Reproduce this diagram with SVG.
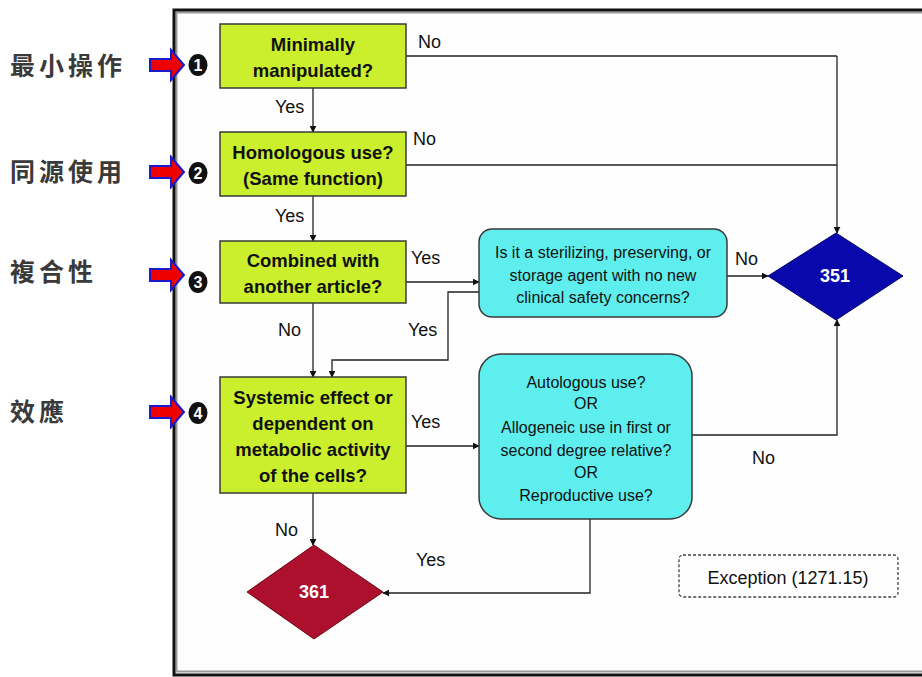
<svg xmlns="http://www.w3.org/2000/svg" width="922" height="677" viewBox="0 0 922 677">
<defs>
<marker id="ah" viewBox="0 0 10 10" refX="9" refY="5" markerWidth="7" markerHeight="7" orient="auto" markerUnits="userSpaceOnUse">
<path d="M0,0 L10,5 L0,10 z" fill="#111"/>
</marker>
<style>
.q{fill:#cbef2c;stroke:#3a3a3a;stroke-width:1.5}
.qt{font-family:"Liberation Sans",Arial,sans-serif;font-weight:bold;font-size:18.5px;fill:#111;text-anchor:middle}
.c{fill:#5eeeee;stroke:#3a3a3a;stroke-width:1.5}
.ct{font-family:"Liberation Sans",Arial,sans-serif;font-size:16px;fill:#111;text-anchor:middle}
.lb{font-family:"Liberation Sans",Arial,sans-serif;font-size:18px;fill:#111}
.ln{fill:none;stroke:#222;stroke-width:1.3}
.ar{fill:none;stroke:#222;stroke-width:1.3;marker-end:url(#ah)}
.dt{font-family:"Liberation Sans",Arial,sans-serif;font-weight:bold;font-size:18px;fill:#fff;text-anchor:middle}
.zh{font-family:"Noto Sans CJK TC","Noto Sans CJK SC",sans-serif;font-weight:bold;font-size:25px;fill:#3a3a3a;letter-spacing:4px}
.ra{fill:#ee0000;stroke:#1a1acc;stroke-width:2}
.num{font-family:"Liberation Sans",Arial,sans-serif;font-weight:bold;font-size:16px;fill:#fff;text-anchor:middle}
</style>
</defs>
<rect width="922" height="677" fill="#fff"/>
<g id="frame">
<rect x="176.5" y="12.5" width="760" height="659" fill="#fefefe" stroke="#9a9a9a" stroke-width="2"/>
<rect x="174" y="10" width="765" height="665" fill="none" stroke="#111" stroke-width="3"/>
</g>
<g id="side-labels">
<g id="lbl1"><text class="zh" x="10" y="75">最小操作</text><path class="ra" d="M150,59 H171 V50 L184,65 L171,80 V71 H150 z"/><ellipse cx="198" cy="65" rx="9.5" ry="11" fill="#111"/><text class="num" x="198" y="71">1</text></g>
<g id="lbl2"><text class="zh" x="10" y="181">同源使用</text><path class="ra" d="M150,166 H171 V157 L184,172 L171,187 V178 H150 z"/><ellipse cx="198" cy="173" rx="9.5" ry="11" fill="#111"/><text class="num" x="198" y="179">2</text></g>
<g id="lbl3"><text class="zh" x="10" y="281">複合性</text><path class="ra" d="M150,269 H171 V260 L184,275 L171,290 V281 H150 z"/><ellipse cx="198" cy="282" rx="9.5" ry="11" fill="#111"/><text class="num" x="198" y="288">3</text></g>
<g id="lbl4"><text class="zh" x="10" y="421">效應</text><path class="ra" d="M150,406 H171 V397 L184,412 L171,427 V418 H150 z"/><ellipse cx="198" cy="413" rx="9.5" ry="11" fill="#111"/><text class="num" x="198" y="419">4</text></g>
</g>
<g id="connectors">
<path class="ln" d="M406,56 H837"/>
<path class="ln" d="M406,165 H837"/>
<path class="ar" d="M837,56 V233"/>
<path class="ar" d="M313,88 V132"/>
<path class="ar" d="M313,196 V241"/>
<path class="ar" d="M406,282 H479"/>
<path class="ar" d="M727,276 H768"/>
<path class="ar" d="M479,292 H448 V360 H332 V377"/>
<path class="ar" d="M313,303 V377"/>
<path class="ar" d="M406,446 H479"/>
<path class="ar" d="M692,435 H837 V320"/>
<path class="ar" d="M313,493 V545"/>
<path class="ar" d="M590,519 V593 H383"/>
<text class="lb" x="418" y="48">No</text>
<text class="lb" x="275" y="113">Yes</text>
<text class="lb" x="413" y="145">No</text>
<text class="lb" x="275" y="222">Yes</text>
<text class="lb" x="411" y="264">Yes</text>
<text class="lb" x="278" y="336">No</text>
<text class="lb" x="408" y="336">Yes</text>
<text class="lb" x="411" y="428">Yes</text>
<text class="lb" x="735" y="265">No</text>
<text class="lb" x="752" y="464">No</text>
<text class="lb" x="275" y="536">No</text>
<text class="lb" x="416" y="566">Yes</text>
</g>
<g id="n1"><rect class="q" x="220" y="24" width="186" height="64"/><text class="qt" x="313" y="51">Minimally</text><text class="qt" x="313" y="77">manipulated?</text></g>
<g id="n2"><rect class="q" x="220" y="132" width="186" height="64"/><text class="qt" x="313" y="159">Homologous use?</text><text class="qt" x="313" y="185">(Same function)</text></g>
<g id="n3"><rect class="q" x="220" y="241" width="186" height="62"/><text class="qt" x="313" y="267">Combined with</text><text class="qt" x="313" y="293">another article?</text></g>
<g id="n4"><rect class="q" x="220" y="377" width="186" height="116"/><text class="qt" x="313" y="404">Systemic effect or</text><text class="qt" x="313" y="430">dependent on</text><text class="qt" x="313" y="456">metabolic activity</text><text class="qt" x="313" y="482">of the cells?</text></g>
<g id="c1"><rect class="c" x="479" y="229" width="248" height="88" rx="13"/><text class="ct" x="603" y="258">Is it a sterilizing, preserving, or</text><text class="ct" x="603" y="281">storage agent with no new</text><text class="ct" x="603" y="303">clinical safety concerns?</text></g>
<g id="c2"><rect class="c" x="479" y="354" width="213" height="165" rx="22"/><text class="ct" x="586" y="388">Autologous use?</text><text class="ct" x="586" y="409">OR</text><text class="ct" x="586" y="433">Allogeneic use in first or</text><text class="ct" x="586" y="456">second degree relative?</text><text class="ct" x="586" y="478">OR</text><text class="ct" x="586" y="501">Reproductive use?</text></g>
<g id="d351"><polygon points="836,233 903,276 836,320 768,276" fill="#0808ad" stroke="#06066a" stroke-width="1"/><text class="dt" x="835" y="282">351</text></g>
<g id="d361"><polygon points="314,545 383,592 314,639 247,592" fill="#ad102d" stroke="#6a0a1a" stroke-width="1"/><text class="dt" x="314" y="598">361</text></g>
<g id="exc"><rect x="679" y="555" width="219" height="42" rx="4" fill="none" stroke="#444" stroke-width="1.3" stroke-dasharray="3,2"/><text class="lb" x="788" y="584" text-anchor="middle">Exception (1271.15)</text></g>
</svg>
